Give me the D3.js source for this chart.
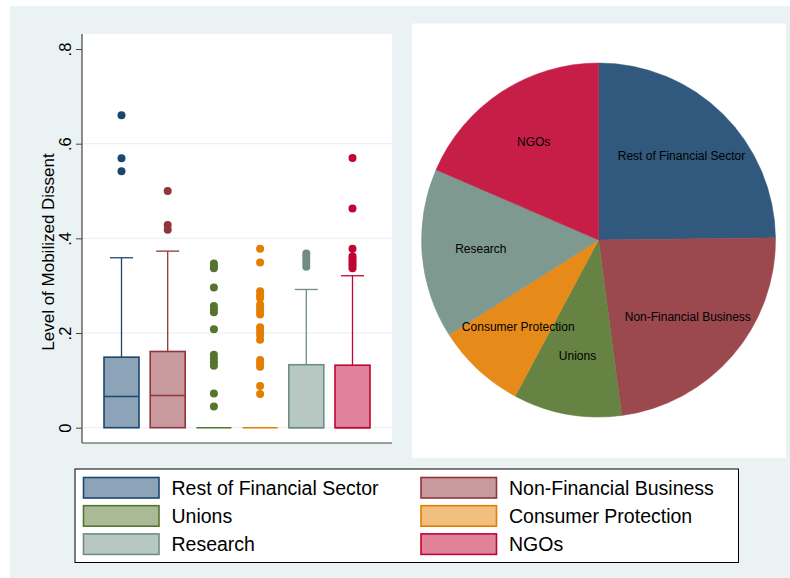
<!DOCTYPE html>
<html lang="en">
<head>
<meta charset="UTF-8">
<title>Mobilized Dissent by Group</title>
<script src="https://d3js.org/d3.v7.min.js"></script>
<style>
  body { margin: 0; background: #fff; font-family: "Liberation Sans", Arial, Helvetica, sans-serif; }
  svg text { fill: #000; }
</style>
</head>
<body>
<div id="chart"></div>
<script>
// groups and their Stata s2color colours
const groups = ["Rest of Financial Sector", "Non-Financial Business", "Unions",
                "Consumer Protection", "Research", "NGOs"];
const baseColors = ["#1a476f", "#90353b", "#55752f", "#e37e00", "#6e8e84", "#c10534"];

// box plot summaries (level of mobilized dissent)
const q1 = [0, 0, 0, 0, 0, 0];
const medians = [0.066, 0.068, 0, 0, 0, 0];
const q3 = [0.149, 0.161, 0, 0, 0.133, 0.132];
const upperWhisker = [0.359, 0.373, 0, 0, 0.292, 0.321];
const outliers = [
  [0.660, 0.569, 0.542],
  [0.500, 0.428, 0.418],
  [0.347, 0.342, 0.337, 0.296, 0.257, 0.250, 0.244, 0.208, 0.154, 0.146, 0.138, 0.131, 0.072, 0.045],
  [0.378, 0.349, 0.288, 0.280, 0.274, 0.260, 0.253, 0.246, 0.239, 0.212, 0.204, 0.196, 0.186, 0.143, 0.136, 0.129, 0.088, 0.071],
  [0.368, 0.362, 0.355, 0.348, 0.340],
  [0.570, 0.463, 0.378, 0.362, 0.357, 0.352, 0.347, 0.342, 0.337]
];
const yTicks = [0, 0.2, 0.4, 0.6, 0.8];
const yTickLabels = ["0", ".2", ".4", ".6", ".8"];

// pie shares (percent of all cases)
const pieOrder = ["Rest of Financial Sector", "Non-Financial Business", "Unions",
                  "Consumer Protection", "Research", "NGOs"];
const pieShares = [24.8, 23.1, 9.9, 8.2, 15.5, 18.5];

const width = 790, height = 578;
const bg = "#eaf2f3";

const color = d3.scaleOrdinal().domain(groups).range(baseColors);
const light = g => d3.interpolateRgb(color(g), "#fff")(0.5);
const pieCol = g => d3.interpolateRgb(color(g), "#fff")(0.1);

const svg = d3.select("#chart").append("svg")
  .attr("width", width).attr("height", height);

svg.append("rect").attr("x", 10).attr("y", 6)
  .attr("width", width - 10).attr("height", height - 6).attr("fill", bg);

// ---------- box plot ----------
const plot = {left: 82, top: 34, right: 392, bottom: 443};
svg.append("rect").attr("x", plot.left).attr("y", plot.top)
  .attr("width", plot.right - plot.left).attr("height", plot.bottom - plot.top)
  .attr("fill", "#fff");

const y = d3.scaleLinear().domain([0, 0.8]).range([427.7, 49]);
const x = d3.scalePoint().domain(groups).range([121.5, 352.5]);
const boxW = 35, capW = 23;

// gridlines
svg.append("g").selectAll("line").data(yTicks.filter(t => t < 0.8)).join("line")
  .attr("x1", plot.left).attr("x2", plot.right)
  .attr("y1", d => y(d)).attr("y2", d => y(d))
  .attr("stroke", bg).attr("stroke-width", 1.2);

// y axis
const yAxis = svg.append("g").attr("transform", `translate(${plot.left},0)`)
  .call(d3.axisLeft(y).tickValues(yTicks).tickSize(6).tickPadding(6)
    .tickFormat((d, i) => yTickLabels[i]));
yAxis.select(".domain").remove();
yAxis.selectAll(".tick line").attr("stroke", "#444");
yAxis.selectAll(".tick text")
  .attr("font-size", 16.5).attr("font-family", "Liberation Sans, Arial, sans-serif")
  .attr("transform", "rotate(-90)")
  .attr("x", 0).attr("y", -11.5).attr("dy", 0)
  .attr("text-anchor", "middle");

svg.append("line").attr("x1", plot.left).attr("x2", plot.left)
  .attr("y1", plot.top).attr("y2", plot.bottom).attr("stroke", "#444").attr("stroke-width", 1.2);
svg.append("line").attr("x1", plot.left).attr("x2", plot.right)
  .attr("y1", plot.bottom).attr("y2", plot.bottom).attr("stroke", "#444").attr("stroke-width", 1.2);

svg.append("text")
  .attr("transform", `translate(53.5,252) rotate(-90)`)
  .attr("text-anchor", "middle").attr("font-size", 17)
  .text("Level of Mobilized Dissent");

const boxes = svg.append("g").selectAll("g").data(groups).join("g");
const hasWhisker = d => upperWhisker[groups.indexOf(d)] > q3[groups.indexOf(d)];

boxes.filter(hasWhisker).append("line")
  .attr("x1", d => x(d)).attr("x2", d => x(d))
  .attr("y1", d => y(q3[groups.indexOf(d)]))
  .attr("y2", d => y(upperWhisker[groups.indexOf(d)]))
  .attr("stroke", d => color(d)).attr("stroke-width", 1.3);
boxes.filter(hasWhisker).append("line")
  .attr("x1", d => x(d) - capW / 2).attr("x2", d => x(d) + capW / 2)
  .attr("y1", d => y(upperWhisker[groups.indexOf(d)]))
  .attr("y2", d => y(upperWhisker[groups.indexOf(d)]))
  .attr("stroke", d => color(d)).attr("stroke-width", 1.3);

boxes.append("rect")
  .attr("x", d => x(d) - boxW / 2).attr("width", boxW)
  .attr("y", (d, i) => y(q3[i]))
  .attr("height", (d, i) => y(q1[i]) - y(q3[i]))
  .attr("fill", d => light(d)).attr("stroke", d => color(d)).attr("stroke-width", 1.6);

// median line (for all-zero groups this is the flat box)
boxes.append("line")
  .attr("x1", d => x(d) - boxW / 2).attr("x2", d => x(d) + boxW / 2)
  .attr("y1", (d, i) => y(medians[i]))
  .attr("y2", (d, i) => y(medians[i]))
  .attr("stroke", d => color(d)).attr("stroke-width", 1.6);

boxes.each(function (d, i) {
  d3.select(this).selectAll("circle").data(outliers[i]).join("circle")
    .attr("cx", x(d)).attr("cy", v => y(v)).attr("r", 4)
    .attr("fill", color(d));
});

// ---------- pie ----------
svg.append("rect").attr("x", 412).attr("y", 23.5)
  .attr("width", 374).attr("height", 434.5).attr("fill", "#fff");

const cx = 598.5, cy = 240, R = 177;
const pieData = d3.pie().sort(null).value(d => d.v)
  (pieOrder.map((g, i) => ({g, v: pieShares[i]})));
const arc = d3.arc().innerRadius(0).outerRadius(R);
const labelArc = d3.arc().innerRadius(R * 0.667).outerRadius(R * 0.667);

const pg = svg.append("g").attr("transform", `translate(${cx},${cy})`);
pg.selectAll("path").data(pieData).join("path")
  .attr("d", arc).attr("fill", d => pieCol(d.data.g))
  .attr("stroke", d => pieCol(d.data.g)).attr("stroke-width", 0.5);
pg.selectAll("text").data(pieData).join("text")
  .attr("transform", d => `translate(${labelArc.centroid(d)})`)
  .attr("text-anchor", "middle").attr("dy", "0.35em")
  .attr("font-size", 12).text(d => d.data.g);

// ---------- legend ----------
svg.append("rect").attr("x", 75).attr("y", 469)
  .attr("width", 663.5).attr("height", 93.5)
  .attr("fill", "#fff").attr("stroke", "#000").attr("stroke-width", 1);

const legend = svg.append("g").selectAll("g").data(groups).join("g")
  .attr("transform", (d, i) => `translate(${i % 2 ? 421 : 83.5},${477.5 + Math.floor(i / 2) * 28.2})`);
legend.append("rect").attr("width", 75.5).attr("height", 20.5)
  .attr("fill", d => light(d)).attr("stroke", d => color(d)).attr("stroke-width", 1.6);
legend.append("text").attr("x", 88).attr("y", 10.5).attr("dy", "0.35em")
  .attr("font-size", 19.5).text(d => d);
</script>
</body>
</html>
